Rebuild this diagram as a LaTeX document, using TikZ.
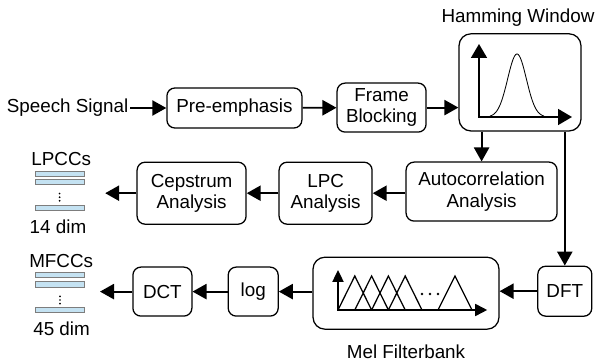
\documentclass[tikz,border=0pt]{standalone}
\usepackage{fontspec}
\setmainfont{Liberation Sans}
\usetikzlibrary{arrows.meta, positioning}
\definecolor{barblue}{RGB}{196,226,242}
\definecolor{bargray}{RGB}{125,125,125}

\begin{document}
\begin{tikzpicture}[
    font=\fontsize{13.4}{15}\selectfont,
    block/.style={rectangle, draw, line width=0.9pt, align=center, rounded corners=0.2cm, inner sep=0pt},
    arrow/.style={line width=1.3pt, -{Triangle[length=0.35cm, width=0.38cm]}},
    axes/.style={line width=1.2pt, {Triangle[length=0.35cm, width=0.4cm]}-{Triangle[length=0.35cm, width=0.4cm]}},
    bar/.style={rectangle, draw=bargray, fill=barblue, line width=0.7pt, minimum width=1.22cm, minimum height=0.13cm, inner sep=0pt}
]
\useasboundingbox (0,0) rectangle (14.925,-9.075);

\node (signal) [anchor=east, inner sep=1pt] at (3.25,-2.70) {Speech Signal};
\node (preemph) [block, minimum width=3.375cm, minimum height=1cm] at (5.86,-2.70) {Pre-emphasis};
\node (frame) [block, minimum width=2.225cm, minimum height=1.225cm] at (9.54,-2.69) {Frame\\Blocking};
\node (hamming) [block, rounded corners=0.3cm, minimum width=3.05cm, minimum height=2.43cm] at (13.0,-2.06) {};
\node (hamtitle) at (12.95,-0.43) {Hamming Window};

\node (autocorr) [block, minimum width=3.775cm, minimum height=1.475cm] at (12.04,-4.79) {Autocorrelation\\Analysis};
\node (lpc) [block, minimum width=2.325cm, minimum height=1.55cm] at (8.14,-4.83) {LPC\\Analysis};
\node (cepstrum) [block, minimum width=2.725cm, minimum height=1.55cm] at (4.79,-4.83) {Cepstrum\\Analysis};

\node (dft) [block, minimum width=1.35cm, minimum height=1.25cm] at (14.12,-7.28) {DFT};
\node (melbank) [block, rounded corners=0.3cm, minimum width=4.65cm, minimum height=1.8cm] at (10.15,-7.33) {};
\node (meltitle) at (10.15,-8.8) {Mel Filterbank};
\node (log) [block, minimum width=1.25cm, minimum height=1.225cm] at (6.33,-7.29) {log};
\node (dct) [block, minimum width=1.475cm, minimum height=1.225cm] at (4.06,-7.29) {DCT};

\node (lpcctitle) at (1.53,-3.98) {LPCCs};
\node (lpccbar1) [bar] at (1.49,-4.34) {};
\node (lpccbar2) [bar] at (1.49,-4.55) {};
\node (lpccbar3) [bar] at (1.49,-5.20) {};
\node (lpccdim) at (1.45,-5.68) {14 dim};
\coordinate (lpccin) at (2.63,-4.83);

\node (mfcctitle) at (1.53,-6.53) {MFCCs};
\node (mfccbar1) [bar] at (1.5,-6.88) {};
\node (mfccbar2) [bar] at (1.5,-7.11) {};
\node (mfccbar3) [bar] at (1.5,-7.75) {};
\node (mfccdim) at (1.54,-8.23) {45 dim};
\coordinate (mfccin) at (2.5,-7.29);

\fill (1.49,-4.84) circle (0.024) (1.49,-4.93) circle (0.024) (1.49,-5.02) circle (0.024);
\fill (1.5,-7.41) circle (0.024) (1.5,-7.5) circle (0.024) (1.5,-7.59) circle (0.024);

\draw [axes] (11.975,-1.1) -- (11.975,-2.925) -- (14.3,-2.925);
\draw [line width=0.6pt] plot[domain=12.25:13.6, samples=60] (\x, {-2.925+1.575*exp(-((\x-12.925)/0.33)^2)});

\draw [axes, {Triangle[length=0.3cm, width=0.28cm]}-{Triangle[length=0.3cm, width=0.3cm]}] (8.45,-6.75) -- (8.45,-7.75) -- (12.18,-7.75);
\draw [line width=0.9pt] (8.45,-7.75) -- (8.87,-6.9) -- (9.29,-7.75)
    (8.87,-7.75) -- (9.29,-6.9) -- (9.71,-7.75)
    (9.29,-7.75) -- (9.71,-6.9) -- (10.13,-7.75)
    (9.71,-7.75) -- (10.13,-6.9) -- (10.55,-7.75)
    (10.95,-7.75) -- (11.375,-6.9) -- (11.8,-7.75);
\fill (10.55,-7.35) circle (0.035) (10.75,-7.35) circle (0.035) (10.95,-7.35) circle (0.035);

\draw [arrow] (signal) -- (preemph);
\draw [arrow] (preemph) -- (frame);
\draw [arrow] (frame.east) -- (frame.east -| hamming.west);
\draw [arrow] (autocorr.north |- hamming.south) -- (autocorr.north);
\draw [arrow] (dft.north |- hamming.south) -- (dft.north);

\draw [arrow] (autocorr.west |- lpc.east) -- (lpc.east);
\draw [arrow] (lpc) -- (cepstrum);
\draw [arrow] (cepstrum.west) -- (lpccin);

\draw [arrow] (dft.west) -- (dft.west -| melbank.east);
\draw [arrow] (melbank.west |- log.east) -- (log.east);
\draw [arrow] (log) -- (dct);
\draw [arrow] (dct.west) -- (mfccin);
\end{tikzpicture}
\end{document}
